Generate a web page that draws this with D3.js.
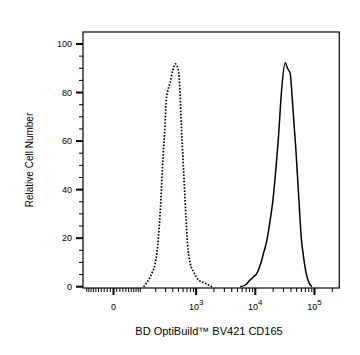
<!DOCTYPE html>
<html><head><meta charset="utf-8">
<script src="https://cdn.jsdelivr.net/npm/d3@7"></script>
<style>
html,body{margin:0;padding:0;background:#fff;}
svg{display:block;font-family:"Liberation Sans",Arial,sans-serif;}
</style></head>
<body>
<script>
// ---- data ----
const isoValues = [117,147,170,196,225,248,265,288,308,325,362,402,441,490,522,552,588,628,671,714,794,903,1098,1425,1851];
const isoCounts = [0,2.8,5.5,9.6,20.6,35.7,49.4,63.2,76.9,80.3,84.3,89.3,91.8,90,83.8,70,56.3,42.6,28.8,17.9,9.6,6.2,2.8,1.4,0];
const stainValues = [5561,6758,8207,9329,10644,12105,13759,15700,17859,19836,21684,23165,24646,26328,28124,31998,34983,38857,41504,44159,48500,52415,55804,59597,65165,72348,79167,90344];
const stainCounts = [0,0.7,2.8,4.1,5.5,8.9,13.8,19.2,27.5,35.7,45.3,53.6,61.8,72.8,82.4,92.3,90,87.9,79.7,70,56.3,42.6,31.6,20.6,12.4,5.5,2.1,0];
const xMajorTicks = [0,1000,10000,100000];
const xMajorLabels = [["0",""],["10","3"],["10","4"],["10","5"]];
const yMajorTicks = [0,20,40,60,80,100];
const xTitle = "BD OptiBuild™ BV421 CD165";
const yTitle = "Relative Cell Number";

// ---- layout ----
const W = 360, H = 355;
const L = 83, R = 339.3, T = 32, B = 288;
const C = 80.7;
const tr = v => Math.asinh(v / C);
const xl = d3.scaleLinear().domain([tr(-120), tr(262144)]).range([L, R]);
const x = v => xl(tr(v));
const y = d3.scaleLinear().domain([0, 100]).range([286.7, 44]);

const svg = d3.select("body").append("svg").attr("width", W).attr("height", H);

// minor x ticks
const xMinor = [];
for (let n = 1; n <= 5; n++) for (let k = 1; k <= 9; k++) {
  const v = k * Math.pow(10, n);
  xMinor.push(v);
  if (v <= 100) xMinor.push(-v);
}
const xMinorF = xMinor.filter(v => v > -120 && v < 262144 && !xMajorTicks.includes(v));

const g = svg.append("g");
g.selectAll("line.xminor").data(xMinorF).enter().append("line")
  .attr("x1", d => x(d)).attr("x2", d => x(d)).attr("y1", B).attr("y2", B + 4)
  .attr("stroke", "#000").attr("stroke-width", 1);
g.selectAll("line.xmajor").data(xMajorTicks).enter().append("line")
  .attr("x1", d => x(d)).attr("x2", d => x(d)).attr("y1", B).attr("y2", B + 7)
  .attr("stroke", "#000").attr("stroke-width", 2);

// x labels
const xlab = g.selectAll("text.xl").data(xMajorTicks).enter().append("text")
  .attr("x", d => x(d)).attr("y", 310).attr("text-anchor", "middle")
  .attr("font-size", 9).attr("fill", "#000");
xlab.each(function(d, i) {
  const t = d3.select(this);
  t.append("tspan").text(xMajorLabels[i][0]);
  if (xMajorLabels[i][1]) t.append("tspan").attr("dy", -5).attr("font-size", 8).text(xMajorLabels[i][1]);
});

// y ticks
const yMinor = d3.range(0, 101, 5).filter(v => v % 20 !== 0);
g.selectAll("line.yminor").data(yMinor).enter().append("line")
  .attr("x1", L - 4).attr("x2", L).attr("y1", d => y(d)).attr("y2", d => y(d))
  .attr("stroke", "#000").attr("stroke-width", 1);
g.selectAll("line.ymajor").data(yMajorTicks).enter().append("line")
  .attr("x1", L - 7).attr("x2", L).attr("y1", d => y(d)).attr("y2", d => y(d))
  .attr("stroke", "#000").attr("stroke-width", 2);
g.selectAll("text.yl").data(yMajorTicks).enter().append("text")
  .attr("x", 72).attr("y", d => y(d) + 3.2).attr("text-anchor", "end")
  .attr("font-size", 9).attr("fill", "#000").text(d => d);

// frame
svg.append("rect").attr("x", L).attr("y", T).attr("width", R - L).attr("height", B - T)
  .attr("fill", "none").attr("stroke", "#000").attr("stroke-width", 1.2);

// curves
const line = d3.line().x(d => x(d[0])).y(d => y(d[1])).curve(d3.curveMonotoneX);
const isoData = isoValues.map((v, i) => [v, isoCounts[i]]);
const stainData = stainValues.map((v, i) => [v, stainCounts[i]]);
svg.append("path").datum(isoData).attr("d", line).attr("fill", "none")
  .attr("stroke", "#000").attr("stroke-width", 1.7).attr("stroke-dasharray", "1.6,1.6");
svg.append("path").datum(stainData).attr("d", line).attr("fill", "none")
  .attr("stroke", "#000").attr("stroke-width", 1.5);

// titles
svg.append("text").attr("x", 209).attr("y", 335).attr("text-anchor", "middle")
  .attr("font-size", 11).attr("fill", "#000").text(xTitle);
svg.append("text").attr("transform", "translate(33,160) rotate(-90)").attr("text-anchor", "middle")
  .attr("font-size", 10).attr("fill", "#000").text(yTitle);
</script>
</body></html>
